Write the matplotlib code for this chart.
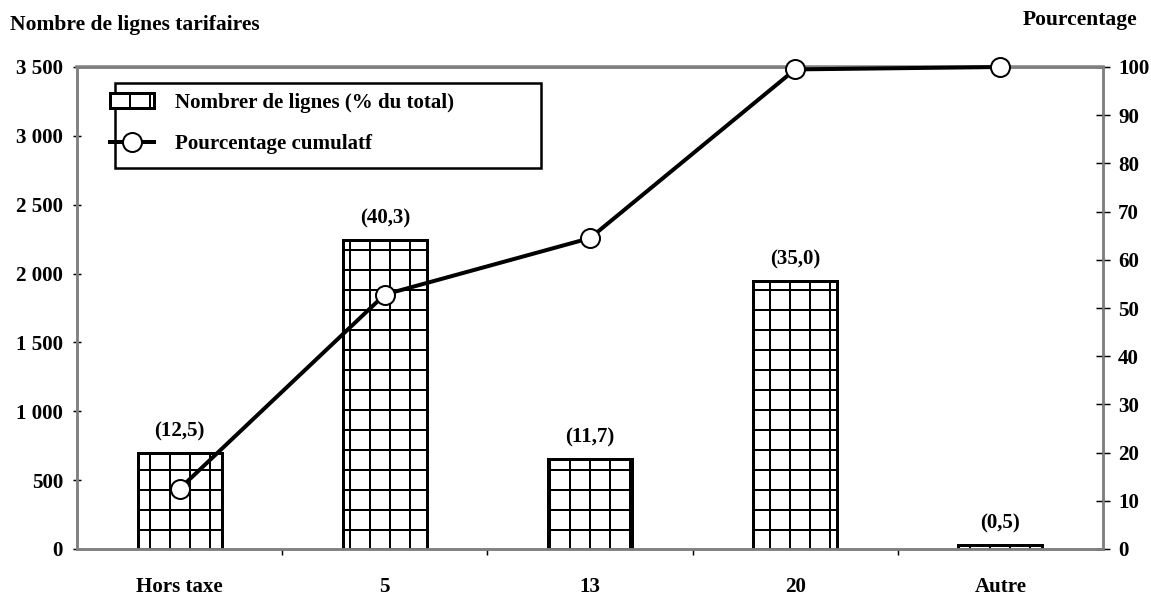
import matplotlib.pyplot as plt
from matplotlib.patches import Rectangle

DPI = 120
PT = 72 / DPI  # points per pixel

plt.rcParams["font.family"] = ["Liberation Serif", "DejaVu Serif"]
plt.rcParams["font.weight"] = "bold"
plt.rcParams["hatch.linewidth"] = 2.0 * PT

categories = ["Hors taxe", "5", "13", "20", "Autre"]
lignes = [695, 2241, 651, 1946, 28]
part_pct = ["(12,5)", "(40,3)", "(11,7)", "(35,0)", "(0,5)"]
cumul_pct = [12.5, 52.8, 64.5, 99.5, 100.0]

left_ticks = [0, 500, 1000, 1500, 2000, 2500, 3000, 3500]
left_labels = ["0", "500", "1 000", "1 500", "2 000", "2 500", "3 000", "3 500"]
right_ticks = list(range(0, 101, 10))

axis_grey = "#808080"
fs = 21 * PT        # tick, legend and value labels
fs_title = 21.5 * PT  # axis titles

# axes box in pixels
AX_L, AX_R, AX_B, AX_T = 77, 1103, 549, 67
W, H = 1151, 596
ax_w, ax_h = AX_R - AX_L, AX_B - AX_T

fig = plt.figure(figsize=(W / DPI, H / DPI), dpi=DPI)
ax = fig.add_axes([AX_L / W, 1 - AX_B / H, ax_w / W, ax_h / H])
ax2 = ax.twinx()

x = list(range(len(categories)))
bars = ax.bar(x, lignes, width=0.41, color="white", edgecolor="black",
              linewidth=3 * PT, hatch="+", label="Nombrer de lignes (% du total)",
              zorder=2)
for xi, h, lab in zip(x, lignes, part_pct):
    ax.text(xi, h + 85, lab, ha="center", va="bottom", fontsize=fs,
            fontweight="bold")

line, = ax2.plot(x, cumul_pct, color="black", linewidth=4 * PT, marker="o",
                 markersize=19 * PT, markerfacecolor="white",
                 markeredgecolor="black", markeredgewidth=2 * PT,
                 label="Pourcentage cumulatf", zorder=3, clip_on=False)

ax.set_xlim(-0.5, 4.5)
ax.set_ylim(0, 3500)
ax2.set_ylim(0, 100)

ax.set_xticks(x)
ax.set_xticklabels(categories, fontsize=fs, fontweight="bold")
ax.set_xticks([i + 0.5 for i in x[:-1]], minor=True)
ax.tick_params(axis="x", which="major", length=0, pad=28 * PT)
ax.tick_params(axis="x", which="minor", length=6 * PT, width=1.5 * PT,
               color="black", direction="out")

ax.set_yticks(left_ticks)
ax.set_yticklabels(left_labels, fontsize=fs, fontweight="bold")
ax.tick_params(axis="y", length=8 * PT, width=1.5 * PT, color="black",
               direction="inout", pad=10 * PT)

ax2.set_yticks(right_ticks)
ax2.set_yticklabels([str(t) for t in right_ticks], fontsize=fs,
                    fontweight="bold")
ax2.tick_params(axis="y", length=14 * PT, width=1.5 * PT, color="black",
                direction="inout", pad=8 * PT)

for a in (ax, ax2):
    for s in a.spines.values():
        s.set_color(axis_grey)
        s.set_linewidth(2.5 * PT)
ax2.spines["top"].set_linewidth(3.5 * PT)

fig.text(10 / W, 1 - 25 / H, "Nombre de lignes tarifaires",
         fontsize=fs_title, fontweight="bold", ha="left", va="center")
fig.text(1137 / W, 1 - 20 / H, "Pourcentage",
         fontsize=fs_title, fontweight="bold", ha="right", va="center")

# legend frame drawn separately so it can be wider than the entries
frame = Rectangle(((115 - AX_L) / ax_w, (AX_B - 168) / ax_h),
                  (541 - 115) / ax_w, (168 - 83) / ax_h,
                  transform=ax2.transAxes, facecolor="white",
                  edgecolor="black", linewidth=2.5 * PT, zorder=4,
                  clip_on=False)
ax2.add_patch(frame)

leg = ax2.legend([bars, line], [bars.get_label(), line.get_label()],
                 loc="upper left",
                 bbox_to_anchor=((110 - AX_L) / ax_w, (AX_B - 93) / ax_h),
                 fontsize=fs, frameon=False, borderpad=0,
                 labelspacing=1.0, handlelength=2.1, handletextpad=1.0,
                 borderaxespad=0)
leg.set_zorder(5)

fig.savefig("out.png", dpi=DPI)
